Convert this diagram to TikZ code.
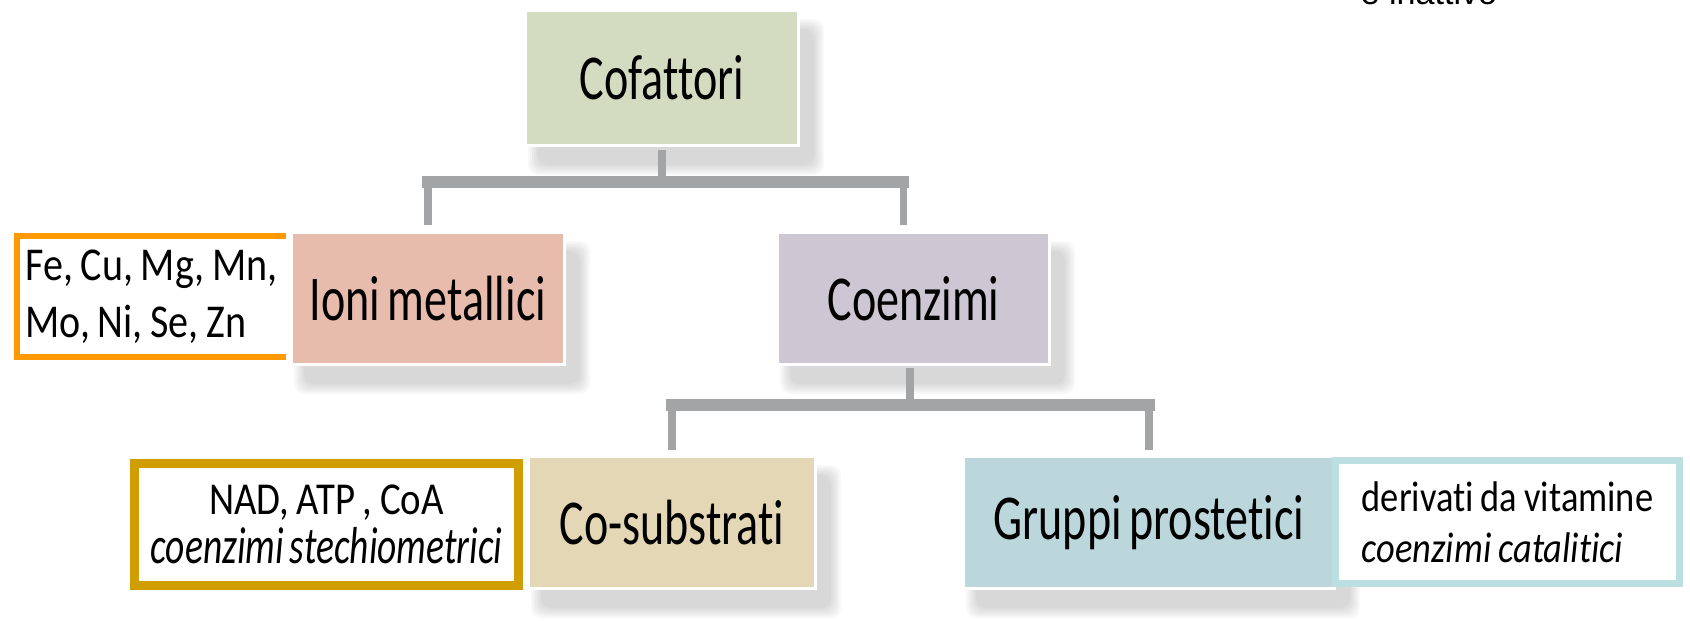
\documentclass[tikz,border=0pt]{standalone}
\usepackage{fontspec}
\setmainfont{Carlito}[Ligatures=NoCommon]
\newfontfamily\boxfont{Carlito}[FakeStretch=0.72, WordSpace=0.72, Ligatures=NoCommon]
\newfontfamily\sidefont{Carlito}[FakeStretch=0.85, WordSpace=0.85, Ligatures=NoCommon]
\newfontfamily\slidefont{Liberation Sans}
\usetikzlibrary{calc, backgrounds}
\definecolor{cofGreen}{HTML}{D3DCC0}
\definecolor{ioniPink}{HTML}{E8BCAC}
\definecolor{coenLilac}{HTML}{CDC7D3}
\definecolor{subSand}{HTML}{E3D7B5}
\definecolor{grupTeal}{HTML}{BBD7DB}
\definecolor{metOrange}{HTML}{FF9900}
\definecolor{subGold}{HTML}{D09E00}
\definecolor{vitBlue}{HTML}{BCDFE2}
\definecolor{linkGray}{HTML}{A3A4A6}

\begin{document}
\begin{tikzpicture}[x=0.1mm, y=-0.1mm,
    catbox/.style={draw=white, line width=0.3mm, inner sep=0pt,
      font=\boxfont\fontsize{18.2}{22}\selectfont},
    linkstem/.style={linkGray, line width=0.75mm},
    linkbar/.style={linkGray, line width=1.15mm, line cap=rect}]
    \useasboundingbox (0,0) rectangle (1690,620);
    % leftover of the slide title
    \node[anchor=base west, inner sep=0pt, font=\slidefont\fontsize{9.7}{11}\selectfont]
      (inattivo) at (1360,5) {e inattivo};
    % the tree
    \node[catbox, fill=cofGreen, minimum width=27.3mm, minimum height=13.5mm] (cof) at (662,78) {Cofattori};
    \node[catbox, fill=ioniPink, minimum width=27.3mm, minimum height=13.2mm] (ioni) at (428,298.5) {Ioni metallici};
    \node[catbox, fill=coenLilac, minimum width=27.2mm, minimum height=13.2mm] (coen) at (913.5,298.5) {Coenzimi};
    \node[catbox, fill=subSand, minimum width=28.7mm, minimum height=13.2mm] (cosub) at (672,522.5) {Co-substrati};
    \node[catbox, fill=grupTeal, minimum width=37.1mm, minimum height=13.2mm] (grup) at (1149,522.5) {Gruppi prostetici};
    % examples beside the boxes
    \node[fill=white, inner sep=0pt, minimum width=26.7mm, minimum height=11.9mm, align=left,
      font=\sidefont\fontsize{13.4}{16.2}\selectfont] (metals) at (151.5,296.5)
      {Fe, Cu, Mg, Mn,\\Mo, Ni, Se, Zn};
    \draw[metOrange, line width=0.6mm] (metals.north east) -- (metals.north west)
      -- (metals.south west) -- (metals.south east);
    \node[draw=subGold, fill=white, line width=0.9mm, inner sep=0pt, minimum width=38.4mm, minimum height=12.2mm,
      align=center, font=\boxfont\fontsize{12}{14}\selectfont] (stechio) at (326.5,524)
      {{\sidefont\fontsize{13}{14}\selectfont NAD, ATP , CoA\hspace{1.5mm}}\\{\fontsize{14.8}{14}\selectfont\itshape coenzimi stechiometrici}};
    \node[draw=vitBlue, fill=white, line width=0.7mm, inner sep=0pt, minimum width=34.4mm,
      minimum height=12.3mm, align=left, font=\sidefont\fontsize{12.2}{14.6}\selectfont] (vitam) at (1507.5,522)
      {derivati da vitamine\\\textit{coenzimi catalitici}\hspace{2.5mm}};
    % connectors
    \coordinate (fork1) at (665,182);
    \coordinate (fork2) at (910,405);
    \coordinate (drop1) at ($(coen.north)+(-10,0)$);
    \draw[linkstem, shorten <=0.3mm] (cof.south) -- (cof.south |- fork1);
    \draw[linkstem, shorten <=0.6mm, shorten >=0.6mm] (ioni.north) -- (ioni.north |- fork1)
      -- (drop1 |- fork1) -- (drop1);
    \draw[linkbar] (ioni.north |- fork1) -- (drop1 |- fork1);
    \draw[linkstem, shorten <=0.2mm] (coen.south -| fork2) -- (fork2);
    \draw[linkstem, shorten <=0.5mm, shorten >=0.5mm] (cosub.north) -- (cosub.north |- fork2)
      -- (grup.north |- fork2) -- (grup.north);
    \draw[linkbar] (cosub.north |- fork2) -- (grup.north |- fork2);
    % soft shadows
    \begin{scope}[on background layer]
      \foreach \n in {cof,ioni,coen,cosub,grup}
        \foreach \k in {0,...,5}
          \fill[black, opacity=0.027, rounded corners=1mm]
            ($(\n.north west)+(4+2*\k,10+2*\k)$) rectangle ($(\n.south east)+(24-2*\k,28-2*\k)$);
    \end{scope}
\end{tikzpicture}
\end{document}
